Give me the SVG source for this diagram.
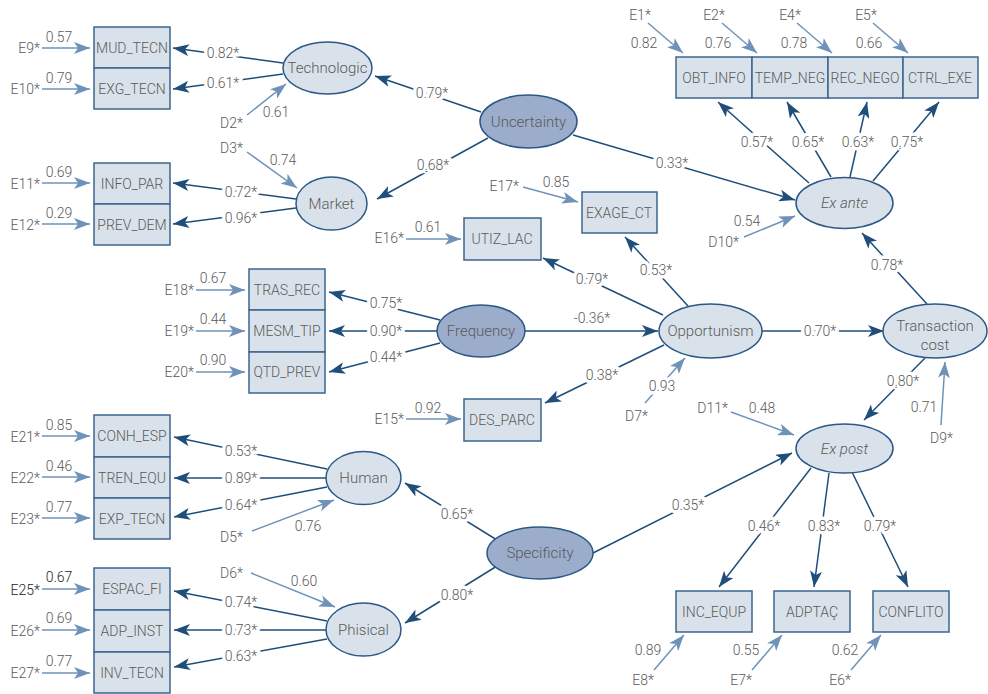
<svg xmlns="http://www.w3.org/2000/svg" width="988" height="694" viewBox="0 0 988 694">
<style>
text{font-family:Roboto,"Liberation Sans",sans-serif;font-size:14px;font-weight:300;fill:#5a5a5a}
.box{fill:#d9e2ea;stroke:#3a6690;stroke-width:1.5}
.lv{fill:#d9e2ea;stroke:#2b5886;stroke-width:1.5}
.lvd{fill:#9badcb;stroke:#2b5886;stroke-width:1.5}
.c{text-anchor:middle}
.e{text-anchor:end}
.nm{font-size:15px}
.it{font-style:italic}
.d{fill:none;stroke:#1f4e7a;stroke-width:1.5;marker-end:url(#ad)}
.l{fill:none;stroke:#6f93b8;stroke-width:1.5;marker-end:url(#al)}
.lbl{text-anchor:middle;paint-order:stroke;stroke:#fff;stroke-width:7px;stroke-linejoin:round}
.dk{fill:#222}
</style>
<defs>
<marker id="ad" viewBox="0 0 16 12" refX="16" refY="6" markerWidth="16" markerHeight="12" orient="auto" markerUnits="userSpaceOnUse"><path d="M0,0 L16,6 L0,12 L4,6 z" fill="#1f4e7a"/></marker>
<marker id="al" viewBox="0 0 16 12" refX="16" refY="6" markerWidth="16" markerHeight="12" orient="auto" markerUnits="userSpaceOnUse"><path d="M0,0 L16,6 L0,12 L4,6 z" fill="#6f93b8"/></marker>
</defs>

<g id="connectors">
<!-- structural / loading arrows -->
<path class="d" d="M283,63 L173,48"/>
<path class="d" d="M283,74 L173,89"/>
<path class="d" d="M481,112 L375,76"/>
<path class="d" d="M488,138 L377,199"/>
<path class="d" d="M573,135 L795,200"/>
<path class="d" d="M296,199 L173,183"/>
<path class="d" d="M296,208 L173,224"/>
<path class="d" d="M809,183 L718,102"/>
<path class="d" d="M831,177 L787,102"/>
<path class="d" d="M850,177 L867,102"/>
<path class="d" d="M873,181 L939,102"/>
<path class="d" d="M688,306 L625,237"/>
<path class="d" d="M663,315 L543,258"/>
<path class="d" d="M664,345 L545,403"/>
<path class="d" d="M525,331 L658,331"/>
<path class="d" d="M440,320 L329,292"/>
<path class="d" d="M437,331 L329,331"/>
<path class="d" d="M440,343 L329,372"/>
<path class="d" d="M762,331 L884,331"/>
<path class="d" d="M927,304 L862,233"/>
<path class="d" d="M925,358 L864,420"/>
<path class="d" d="M593,553 L792,453"/>
<path class="d" d="M811,468 L719,587"/>
<path class="d" d="M829,473 L814,587"/>
<path class="d" d="M852,472 L908,587"/>
<path class="d" d="M327,469 L174,437"/>
<path class="d" d="M326,478 L174,478"/>
<path class="d" d="M327,487 L174,517"/>
<path class="d" d="M497,540 L405,483"/>
<path class="d" d="M497,566 L405,623"/>
<path class="d" d="M327,621 L174,591"/>
<path class="d" d="M326,630 L174,630"/>
<path class="d" d="M327,639 L174,667"/>
<!-- error / disturbance arrows -->
<path class="l" d="M42,48 L90,48"/>
<path class="l" d="M42,89 L90,89"/>
<path class="l" d="M42,183 L90,183"/>
<path class="l" d="M42,224 L90,224"/>
<path class="l" d="M247,115 L286,84"/>
<path class="l" d="M247,152 L297,188"/>
<path class="l" d="M648,23 L683,53"/>
<path class="l" d="M722,23 L757,53"/>
<path class="l" d="M797,23 L832,53"/>
<path class="l" d="M873,23 L908,53"/>
<path class="l" d="M523,187 L578,202"/>
<path class="l" d="M744,237 L795,216"/>
<path class="l" d="M406,239 L461,239"/>
<path class="l" d="M406,419 L461,419"/>
<path class="l" d="M196,290 L245,290"/>
<path class="l" d="M196,331 L245,331"/>
<path class="l" d="M196,372 L245,372"/>
<path class="l" d="M645,403 L685,358"/>
<path class="l" d="M941,425 L945,362"/>
<path class="l" d="M731,412 L794,435"/>
<path class="l" d="M654,670 L684,635"/>
<path class="l" d="M752,670 L782,635"/>
<path class="l" d="M851,670 L881,635"/>
<path class="l" d="M42,436 L90,436"/>
<path class="l" d="M42,477 L90,477"/>
<path class="l" d="M42,518 L90,518"/>
<path class="l" d="M252,531 L334,500"/>
<path class="l" d="M251,573 L335,607"/>
<path class="l" d="M42,589 L90,589"/>
<path class="l" d="M42,630 L90,630"/>
<path class="l" d="M42,673 L90,673"/>
<!-- loading labels -->
<text class="lbl" x="223" y="58">0.82*</text>
<text class="lbl" x="223" y="88">0.61*</text>
<text class="lbl" x="432" y="98">0.79*</text>
<text class="lbl" x="433" y="170">0.68*</text>
<text class="lbl" x="672" y="168">0.33*</text>
<text class="lbl" x="241" y="197">0.72*</text>
<text class="lbl" x="241" y="223">0.96*</text>
<text class="lbl" x="757" y="147">0.57*</text>
<text class="lbl" x="808" y="147">0.65*</text>
<text class="lbl" x="858" y="147">0.63*</text>
<text class="lbl" x="907" y="147">0.75*</text>
<text class="lbl" x="656" y="275">0.53*</text>
<text class="lbl" x="592" y="284">0.79*</text>
<text class="c" x="592" y="323">-0.36*</text>
<text class="lbl" x="602" y="380">0.38*</text>
<text class="lbl" x="386" y="308">0.75*</text>
<text class="lbl" x="386" y="336">0.90*</text>
<text class="lbl" x="386" y="362">0.44*</text>
<text class="lbl" x="820" y="336">0.70*</text>
<text class="lbl" x="887" y="270">0.78*</text>
<text class="lbl" x="903" y="386">0.80*</text>
<text class="lbl" x="688" y="510">0.35*</text>
<text class="lbl" x="764" y="531">0.46*</text>
<text class="lbl" x="824" y="531">0.83*</text>
<text class="lbl" x="880" y="531">0.79*</text>
<text class="lbl" x="241" y="456">0.53*</text>
<text class="lbl" x="241" y="483">0.89*</text>
<text class="lbl" x="241" y="510">0.64*</text>
<text class="lbl" x="457" y="519">0.65*</text>
<text class="lbl" x="457" y="600">0.80*</text>
<text class="lbl" x="241" y="607">0.74*</text>
<text class="lbl" x="241" y="635">0.73*</text>
<text class="lbl" x="241" y="661">0.63*</text>
</g>

<g id="error-labels">
<text class="e" x="40" y="53">E9*</text><text class="c" x="59" y="42">0.57</text>
<text class="e" x="40" y="94">E10*</text><text class="c" x="59" y="83">0.79</text>
<text class="e" x="40" y="189">E11*</text><text class="c" x="59" y="177">0.69</text>
<text class="e" x="40" y="230">E12*</text><text class="c" x="59" y="218">0.29</text>
<text class="e" x="243" y="128">D2*</text><text class="c" x="276" y="117">0.61</text>
<text class="e" x="243" y="153">D3*</text><text class="c" x="283" y="165">0.74</text>
<text class="c" x="640" y="20">E1*</text><text class="c" x="644" y="48">0.82</text>
<text class="c" x="714" y="20">E2*</text><text class="c" x="718" y="48">0.76</text>
<text class="c" x="790" y="20">E4*</text><text class="c" x="794" y="48">0.78</text>
<text class="c" x="866" y="20">E5*</text><text class="c" x="869" y="48">0.66</text>
<text class="e" x="519" y="191">E17*</text><text class="c" x="556" y="187">0.85</text>
<text class="e" x="739" y="247">D10*</text><text class="c" x="747" y="226">0.54</text>
<text class="e" x="404" y="243">E16*</text><text class="c" x="428" y="232">0.61</text>
<text class="e" x="404" y="424">E15*</text><text class="c" x="428" y="413">0.92</text>
<text class="e" x="194" y="295">E18*</text><text class="c" x="213" y="283">0.67</text>
<text class="e" x="194" y="336">E19*</text><text class="c" x="213" y="324">0.44</text>
<text class="e" x="194" y="377">E20*</text><text class="c" x="213" y="365">0.90</text>
<text class="e" x="648" y="421">D7*</text><text class="lbl" x="662" y="391">0.93</text>
<text class="e" x="953" y="443">D9*</text><text class="c" x="924" y="412">0.71</text>
<text class="e" x="728" y="413">D11*</text><text class="c" x="762" y="413">0.48</text>
<text class="e" x="654" y="685">E8*</text><text class="c" x="648" y="655">0.89</text>
<text class="e" x="752" y="685">E7*</text><text class="c" x="746" y="655">0.55</text>
<text class="e" x="851" y="685">E6*</text><text class="c" x="845" y="655">0.62</text>
<text class="e" x="40" y="442">E21*</text><text class="c" x="59" y="430">0.85</text>
<text class="e" x="40" y="483">E22*</text><text class="c" x="59" y="471">0.46</text>
<text class="e" x="40" y="524">E23*</text><text class="c" x="59" y="512">0.77</text>
<text class="e" x="243" y="542">D5*</text><text class="c" x="308" y="531">0.76</text>
<text class="e" x="243" y="578">D6*</text><text class="c" x="304" y="586">0.60</text>
<text class="e dk" x="40" y="595">E25*</text><text class="c dk" x="59" y="582">0.67</text>
<text class="e" x="40" y="636">E26*</text><text class="c" x="59" y="623">0.69</text>
<text class="e" x="40" y="678">E27*</text><text class="c" x="59" y="666">0.77</text>
</g>

<g id="MUD_TECN"><rect class="box" x="94" y="27" width="76" height="41"/><text class="c" x="132" y="53">MUD_TECN</text></g>
<g id="EXG_TECN"><rect class="box" x="94" y="68" width="76" height="41"/><text class="c" x="132" y="94">EXG_TECN</text></g>
<g id="INFO_PAR"><rect class="box" x="94" y="163" width="76" height="41"/><text class="c" x="132" y="189">INFO_PAR</text></g>
<g id="PREV_DEM"><rect class="box" x="94" y="204" width="76" height="41"/><text class="c" x="132" y="230">PREV_DEM</text></g>
<g id="OBT_INFO"><rect class="box" x="676" y="57" width="76" height="41"/><text class="c" x="714" y="83">OBT_INFO</text></g>
<g id="TEMP_NEG"><rect class="box" x="752" y="57" width="76" height="41"/><text class="c" x="790" y="83">TEMP_NEG</text></g>
<g id="REC_NEGO"><rect class="box" x="828" y="57" width="75" height="41"/><text class="c" x="865" y="83">REC_NEGO</text></g>
<g id="CTRL_EXE"><rect class="box" x="903" y="57" width="75" height="41"/><text class="c" x="940" y="83">CTRL_EXE</text></g>
<g id="EXAGE_CT"><rect class="box" x="582" y="192" width="75" height="41"/><text class="c" x="619" y="218">EXAGE_CT</text></g>
<g id="UTIZ_LAC"><rect class="box" x="464" y="218" width="77" height="42"/><text class="c" x="502" y="244">UTIZ_LAC</text></g>
<g id="DES_PARC"><rect class="box" x="464" y="399" width="77" height="42"/><text class="c" x="502" y="425">DES_PARC</text></g>
<g id="TRAS_REC"><rect class="box" x="249" y="269" width="76" height="41"/><text class="c" x="287" y="295">TRAS_REC</text></g>
<g id="MESM_TIP"><rect class="box" x="249" y="310" width="76" height="42"/><text class="c" x="287" y="336">MESM_TIP</text></g>
<g id="QTD_PREV"><rect class="box" x="249" y="352" width="76" height="41"/><text class="c" x="287" y="377">QTD_PREV</text></g>
<g id="INC_EQUP"><rect class="box" x="676" y="591" width="76" height="41"/><text class="c" x="714" y="617">INC_EQUP</text></g>
<g id="ADPTAC"><rect class="box" x="774" y="591" width="76" height="41"/><text class="c" x="812" y="617">ADPTAÇ</text></g>
<g id="CONFLITO"><rect class="box" x="873" y="591" width="76" height="41"/><text class="c" x="911" y="617">CONFLITO</text></g>
<g id="CONH_ESP"><rect class="box" x="94" y="415" width="76" height="42"/><text class="c" x="132" y="441">CONH_ESP</text></g>
<g id="TREN_EQU"><rect class="box" x="94" y="457" width="76" height="41"/><text class="c" x="132" y="483">TREN_EQU</text></g>
<g id="EXP_TECN"><rect class="box" x="94" y="498" width="76" height="41"/><text class="c" x="132" y="524">EXP_TECN</text></g>
<g id="ESPAC_FI"><rect class="box" x="94" y="568" width="76" height="42"/><text class="c" x="132" y="594">ESPAC_FI</text></g>
<g id="ADP_INST"><rect class="box" x="94" y="610" width="76" height="42"/><text class="c" x="132" y="636">ADP_INST</text></g>
<g id="INV_TECN"><rect class="box" x="94" y="652" width="76" height="41"/><text class="c" x="132" y="678">INV_TECN</text></g>

<g id="Technologic"><ellipse class="lv" cx="327.5" cy="68" rx="44.5" ry="26"/><text class="c nm" x="327.5" y="73">Technologic</text></g>
<g id="Market"><ellipse class="lv" cx="331.5" cy="203.5" rx="35.5" ry="26.5"/><text class="c nm" x="331.5" y="209">Market</text></g>
<g id="Uncertainty"><ellipse class="lvd" cx="528.5" cy="121.5" rx="48.5" ry="26.5"/><text class="c nm" x="528.5" y="127">Uncertainty</text></g>
<g id="ExAnte"><ellipse class="lv" cx="844.5" cy="203" rx="48.5" ry="25.5"/><text class="c nm it" x="844.5" y="208">Ex ante</text></g>
<g id="Frequency"><ellipse class="lvd" cx="481" cy="331" rx="44" ry="26"/><text class="c nm" x="481" y="336">Frequency</text></g>
<g id="Opportunism"><ellipse class="lv" cx="710.5" cy="331" rx="51.5" ry="27"/><text class="c nm" x="710.5" y="336">Opportunism</text></g>
<g id="TransactionCost"><ellipse class="lv" cx="935" cy="331" rx="52" ry="27"/><text class="c nm" x="935" y="331">Transaction</text><text class="c nm" x="935" y="350">cost</text></g>
<g id="ExPost"><ellipse class="lv" cx="844.5" cy="448.5" rx="48.5" ry="24.5"/><text class="c nm it" x="844.5" y="454">Ex post</text></g>
<g id="Human"><ellipse class="lv" cx="363.5" cy="478" rx="37.5" ry="26.5"/><text class="c nm" x="363.5" y="483">Human</text></g>
<g id="Phisical"><ellipse class="lv" cx="363.5" cy="629.5" rx="37.5" ry="26.5"/><text class="c nm" x="363.5" y="635">Phisical</text></g>
<g id="Specificity"><ellipse class="lvd" cx="540" cy="553" rx="53" ry="26"/><text class="c nm" x="540" y="558">Specificity</text></g>
</svg>
